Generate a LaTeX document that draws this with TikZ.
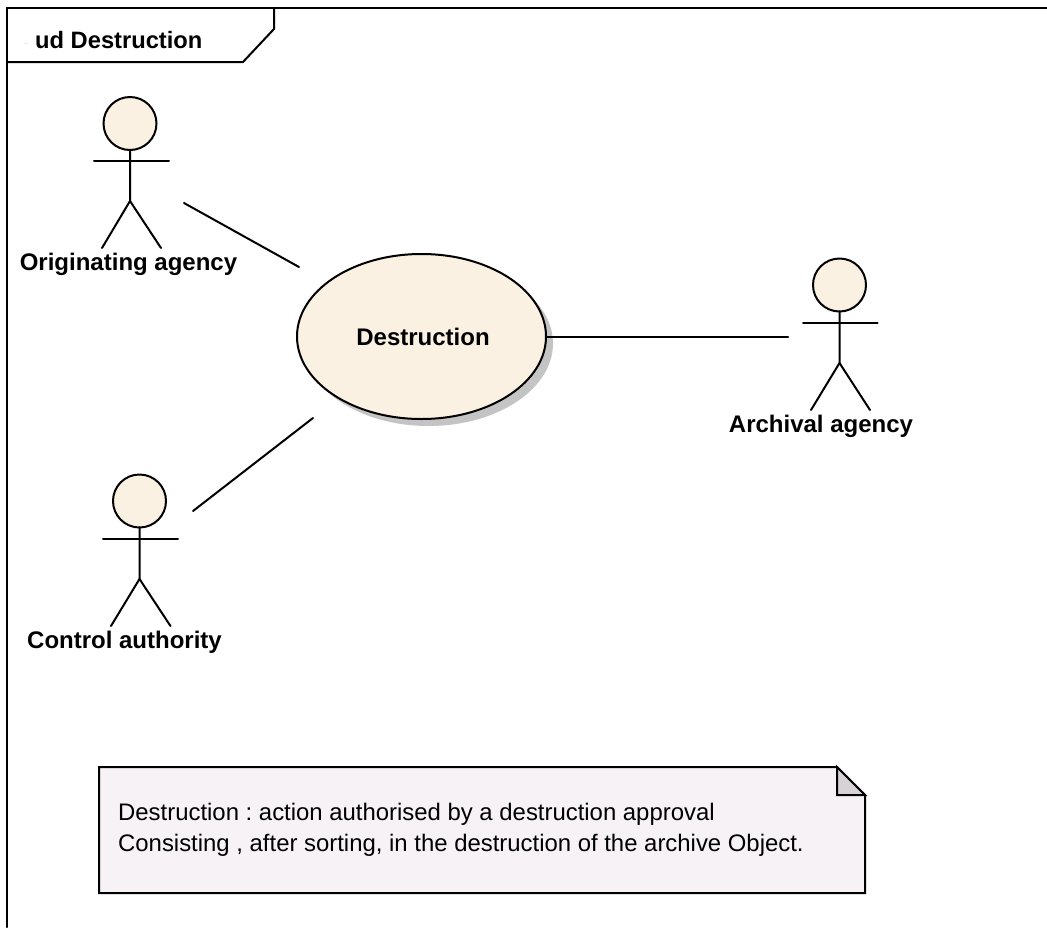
\documentclass[tikz,border=0pt]{standalone}
\usepackage{fontspec}
\setmainfont{Liberation Sans}
\usetikzlibrary{shapes.geometric}
\definecolor{actorfill}{HTML}{FBF1E3}
\definecolor{notefill}{HTML}{F6F2F6}
\definecolor{foldfill}{HTML}{D6D2D6}
\definecolor{shadowgray}{HTML}{C4C4C4}
\tikzset{
  line/.style={line width=2pt, line cap=round},
  head/.style={circle, draw, line width=2pt, fill=actorfill, minimum size=53pt, inner sep=0pt, outer sep=0pt},
  actorname/.style={font=\bfseries\fontsize{24}{28}\selectfont, inner sep=0pt},
}
\begin{document}
\begin{tikzpicture}[x=1pt, y=-1pt]
\frenchspacing

\useasboundingbox (0, 0) rectangle (1047, 927);

% frame and its tab
\draw[line] (1047, 8) -- (7, 8) -- (7, 927);
\draw[line] (7, 62) -- (243, 62) -- (274, 29) -- (274, 8);
\node[font=\bfseries\fontsize{23.7}{28}\selectfont, inner sep=0pt, anchor=west] (title) at (35, 40) {ud Destruction};
\node[font=\fontsize{7}{8}\selectfont, text=gray, inner sep=0pt] (titledot) at (26, 44) {.};

% use case
\fill[shadowgray] (428.5, 343.5) ellipse [x radius=124.5, y radius=82.5];
\node[ellipse, draw, line width=2pt, fill=actorfill, minimum width=249pt, minimum height=165pt, inner sep=0pt, outer sep=0pt,
      font=\bfseries\fontsize{24}{28}\selectfont] (destruction) at (421.5, 336.5) {\hspace*{3pt}Destruction};

% originating agency
\node[head] (orighead) at (130, 123.5) {};
\draw[line] (orighead.south) -- (130, 201) -- (102, 248);
\draw[line] (130, 201) -- (161, 248);
\draw[line] (94, 160.5) -- (169, 160.5);
\node[actorname] (orig) at (128.5, 264) {Originating agency};

% archival agency
\node[head] (archhead) at (839.5, 285) {};
\draw[line] (archhead.south) -- (839.5, 363) -- (811, 410);
\draw[line] (839.5, 363) -- (870, 410);
\draw[line] (803, 322.5) -- (877.5, 322.5);
\node[actorname] (arch) at (821, 426) {Archival agency};

% control authority
\node[head] (ctrlhead) at (139.5, 501) {};
\draw[line] (ctrlhead.south) -- (139.5, 579) -- (111, 626);
\draw[line] (139.5, 579) -- (170.5, 626);
\draw[line] (103, 538.5) -- (178, 538.5);
\node[actorname] (ctrl) at (124.5, 642) {Control authority};

% associations
\coordinate (origend) at (184, 203);
\coordinate (origuse) at (299, 267);
\coordinate (ctrlend) at (193, 511);
\coordinate (ctrluse) at (313, 418);
\coordinate (archend) at (788, 336.5);
\draw[line] (origend) -- (origuse);
\draw[line] (ctrlend) -- (ctrluse);
\draw[line] (destruction.east) -- (archend);

% note
\draw[line, line join=miter, fill=notefill] (99, 767) -- (837, 767) -- (865, 795) -- (865, 893) -- (99, 893) -- cycle;
\draw[line, line join=miter, fill=foldfill] (837, 767) -- (865, 795) -- (837, 795) -- cycle;
\node[font=\fontsize{23.9}{31}\selectfont, align=left, anchor=north west, inner sep=0pt] (notetext) at (118, 803)
  {Destruction : action authorised by a destruction approval\\Consisting , after sorting, in the destruction of the archive Object.};

\end{tikzpicture}
\end{document}
